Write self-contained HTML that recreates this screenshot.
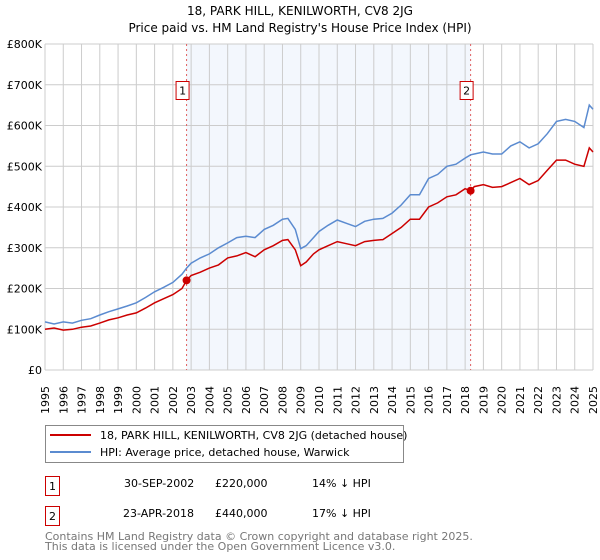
<!DOCTYPE html>
<html><head><meta charset="utf-8"><style>
body{margin:0;background:#fff;}
svg{display:block;font-family:"DejaVu Sans","Liberation Sans",sans-serif;}
</style></head><body>
<svg id="chart" width="600" height="560" viewBox="0 0 600 560">
<text x="300" y="15" text-anchor="middle" font-size="12">18, PARK HILL, KENILWORTH, CV8 2JG</text>
<text x="300" y="32" text-anchor="middle" font-size="12">Price paid vs. HM Land Registry's House Price Index (HPI)</text>
<g id="plot"></g>
<g>
<rect x="45.5" y="425.5" width="358" height="37" fill="#fff" stroke="#888"/>
<line x1="50" y1="435" x2="91" y2="435" stroke="#cc0000" stroke-width="2"/>
<text x="100" y="439" font-size="11">18, PARK HILL, KENILWORTH, CV8 2JG (detached house)</text>
<line x1="50" y1="452" x2="91" y2="452" stroke="#5b8bd0" stroke-width="2"/>
<text x="100" y="456" font-size="11">HPI: Average price, detached house, Warwick</text>
</g>
<g font-size="11">
<rect x="45.5" y="476.5" width="14" height="19" fill="#fff" stroke="#cc0000"/>
<text x="52.5" y="490" text-anchor="middle">1</text>
<text x="124" y="487">30-SEP-2002</text>
<text x="215" y="487">£220,000</text>
<text x="312" y="487">14% ↓ HPI</text>
<rect x="45.5" y="506.5" width="14" height="19" fill="#fff" stroke="#cc0000"/>
<text x="52.5" y="520" text-anchor="middle">2</text>
<text x="123" y="517">23-APR-2018</text>
<text x="215" y="517">£440,000</text>
<text x="312" y="517">17% ↓ HPI</text>
</g>
<text x="45" y="540" font-size="11" fill="#777">Contains HM Land Registry data © Crown copyright and database right 2025.</text>
<text x="45" y="550" font-size="11" fill="#777">This data is licensed under the Open Government Licence v3.0.</text>
</svg>
<script>
const dates=[1995,1995.5,1996,1996.5,1997,1997.5,1998,1998.5,1999,1999.5,2000,2000.5,2001,2001.5,2002,2002.5,2002.75,2003,2003.5,2004,2004.5,2005,2005.5,2006,2006.5,2007,2007.5,2008,2008.3,2008.7,2009,2009.3,2009.7,2010,2010.5,2011,2011.5,2012,2012.5,2013,2013.5,2014,2014.5,2015,2015.5,2016,2016.5,2017,2017.5,2018,2018.3,2018.5,2019,2019.5,2020,2020.5,2021,2021.5,2022,2022.5,2023,2023.5,2024,2024.5,2024.8,2025];
const hpiValues=[118,113,118,115,122,126,135,143,150,157,165,178,192,203,215,235,250,262,275,285,300,312,325,328,325,345,355,370,372,345,298,305,325,340,355,368,360,352,365,370,372,385,405,430,430,470,480,500,505,520,528,530,535,530,530,550,560,545,555,580,610,615,610,595,650,640];
const propValues=[100,103,98,100,105,108,115,123,128,135,140,152,165,175,185,200,220,232,240,250,258,275,280,288,278,295,305,318,320,295,256,265,285,295,305,315,310,305,315,318,320,335,350,370,370,400,410,425,430,445,440,450,455,448,450,460,470,455,465,490,515,515,505,500,545,535];
const yTicks=[0,100,200,300,400,500,600,700,800];
const yTickLabels=["£0","£100K","£200K","£300K","£400K","£500K","£600K","£700K","£800K"];
const years=[1995,1996,1997,1998,1999,2000,2001,2002,2003,2004,2005,2006,2007,2008,2009,2010,2011,2012,2013,2014,2015,2016,2017,2018,2019,2020,2021,2022,2023,2024,2025];
const saleDates=[2002.75,2018.3];
const salePrices=[220,440];
const saleLabels=["1","2"];

const NS="http://www.w3.org/2000/svg";
const X0=45,X1=593,Y0=370,Y1=44;
const xs=d=>X0+(d-1995)/30*(X1-X0);
const ys=v=>Y0-v/800*(Y0-Y1);
const g=document.getElementById('plot');
function mk(t,a){const e=document.createElementNS(NS,t);for(const k in a)e.setAttribute(k,a[k]);g.appendChild(e);return e;}

const shade=mk('rect',{x:xs(saleDates[0]),y:Y1,width:xs(saleDates[1])-xs(saleDates[0]),height:Y0-Y1,fill:'#eef3fc',opacity:0.7});



years.forEach(y=>{
 const l=mk('line',{x1:xs(y),x2:xs(y),y1:Y1,y2:Y0,stroke:'#cccccc','stroke-width':1});
 
 
 const t=mk('text',{transform:`translate(${xs(y)+4},414) rotate(-90)`,'font-size':11});
 t.textContent=y;
 
 
});
yTicks.forEach((v,i)=>{
 const l=mk('line',{x1:X0,x2:X1,y1:ys(v),y2:ys(v),stroke:'#cccccc','stroke-width':1});
 
 
 const t=mk('text',{x:X0-3,y:ys(v)+4,'text-anchor':'end','font-size':11});
 t.textContent=yTickLabels[i];
 
 
});

saleDates.forEach((d,i)=>{
 const l=mk('line',{x1:xs(d),x2:xs(d),y1:Y1,y2:Y0,stroke:'#e06060','stroke-width':1,'stroke-dasharray':'2,3'});
 
 
});

function path(vals,color,name){
 const d=dates.map((t,i)=>(i?'L':'M')+xs(t).toFixed(1)+','+ys(vals[i]).toFixed(1)).join('');
 const p=mk('path',{d:d,fill:'none',stroke:color,'stroke-width':1.5});
 
 
}
path(hpiValues,'#5b8bd0','hpi-line');
path(propValues,'#cc0000','property-line');

saleDates.forEach((d,i)=>{
 const c=mk('circle',{cx:xs(d),cy:ys(salePrices[i]),r:4,fill:'#cc0000'});
 
 
 const bx=xs(d)-11;
 const r=mk('rect',{x:bx+0.5,y:81.5,width:13,height:18,fill:'#fff',stroke:'#cc0000'});
 
 
 const t=mk('text',{x:bx+7,y:94.5,'text-anchor':'middle','font-size':11});
 t.textContent=saleLabels[i];
 
 
});
</script>
</body></html>
